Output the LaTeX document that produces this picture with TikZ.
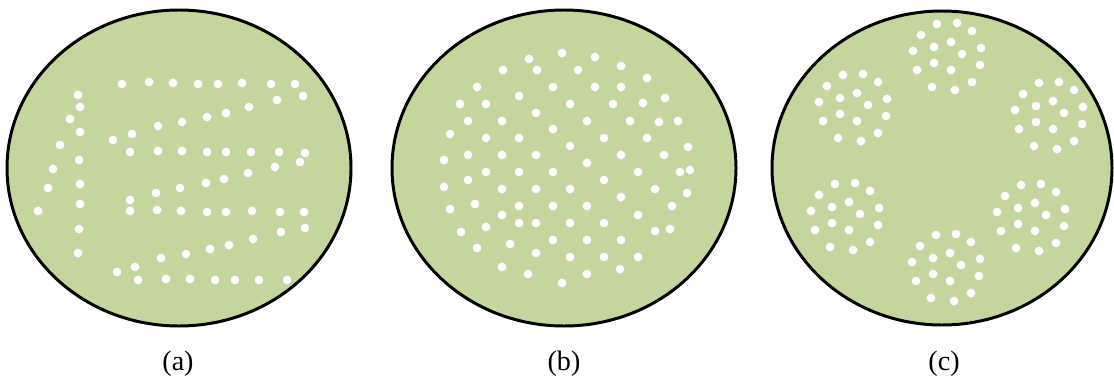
\documentclass[tikz,border=0pt]{standalone}
\usepackage{fontspec}
\setmainfont{Liberation Serif}
\usepackage{xcolor}
\usepackage{tikz}
\definecolor{plategreen}{RGB}{195,214,155}

% one cluster of holes round a centre (pixel units)
\newcommand{\holecluster}[2]{%
  \foreach \dx/\dy in {-10/-33,10/-34,25/-26,-26/-22,4/-15,-13/-10,34/-9,-34/-6,
                       15/-3,-13/6,4/13,33/8,-30/13,25/25,-15/30,8/33}
    \fill[hole] (#1+\dx,#2+\dy) circle (0.095cm);%
}

\begin{document}
\begin{tikzpicture}[x=0.02cm, y=-0.02cm, thick,
  plate/.style={draw=black, line width=1.7pt, fill=plategreen},
  hole/.style={fill=white, draw=gray!40, line width=0.3pt},
  caption/.style={font=\fontsize{16}{18}\selectfont}]
 \useasboundingbox (0,0) rectangle (1114,382);
 % the three plates
 \draw[plate] (179,168) ellipse [x radius=172, y radius=158];
 \draw[plate] (564,168) ellipse [x radius=172, y radius=158];
 \draw[plate] (942,168) ellipse [x radius=170, y radius=157];
 % (a) holes along a folded path
 \foreach \px/\py in {122/84,149/82,173/83,198/84,218/84,242/83,271/84,295/84,
   303/96,277/100,249/107,226/113,207/117,182/122,158/126,132/134,113/140,
   130/152,158/151,182/151,207/152,226/152,251/152,279/152,305/153,
   300/162,275/167,248/173,224/179,206/183,180/188,156/193,130/200,
   130/211,157/210,181/211,207/212,226/212,252/211,280/212,304/212,
   305/228,281/232,253/239,229/245,210/249,186/254,161/258,135/267,117/272,
   138/280,166/279,190/279,215/280,235/280,259/280,287/280,
   78/95,80/107,80/132,79/160,80/184,80/204,79/229,78/253,
   70/119,60/145,53/169,48/188,38/211}
   \fill[hole] (\px,\py) circle (0.095cm);
 % (b) holes spread over the plate
 \foreach \px/\py in {529/59,562/53,595/57,621/66,503/70,537/70,578/70,647/78,
   477/87,553/87,595/87,621/87,519/96,665/98,460/104,486/104,570/104,613/104,643/103,
   536/113,468/121,502/121,587/121,630/121,659/122,678/121,553/129,
   450/134,486/138,519/138,604/138,647/138,570/146,688/147,
   444/160,468/155,502/155,536/155,621/155,664/155,587/163,
   486/172,519/172,553/172,638/172,680/172,690/170,468/180,604/180,
   444/187,502/189,536/189,570/189,655/189,687/193,621/197,
   450/209,475/204,519/206,553/206,587/206,672/206,502/215,638/215,
   486/227,519/223,536/223,570/223,604/223,461/232,655/231,670/229,
   553/240,587/240,621/240,510/244,477/248,536/253,570/257,604/257,638/257,
   502/267,528/274,587/274,620/269,562/283}
   \fill[hole] (\px,\py) circle (0.095cm);
 % (c) six clusters
 \holecluster{947}{57}
 \holecluster{853}{108}
 \holecluster{1049}{116}
 \holecluster{845}{217}
 \holecluster{1031}{218}
 \holecluster{946}{268}
 % captions
 \node[caption] (capA) at (178,364) {(a)};
 \node[caption] (capB) at (564,364) {(b)};
 \node[caption] (capC) at (944,364) {(c)};
\end{tikzpicture}
\end{document}
